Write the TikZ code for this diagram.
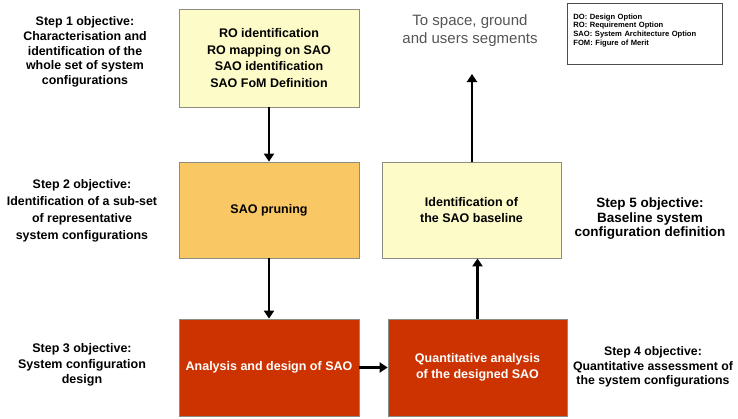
\documentclass[tikz,border=0pt]{standalone}
\usepackage{fontspec}
\setmainfont{Liberation Sans}
\usetikzlibrary{arrows.meta}
\definecolor{lightyel}{RGB}{253,251,200}
\definecolor{orangeyel}{RGB}{249,199,100}
\definecolor{redbox}{RGB}{204,51,0}
\definecolor{boxline}{RGB}{140,140,130}
\definecolor{graytxt}{RGB}{85,85,85}
\tikzset{
  box/.style={draw=boxline, line width=0.8pt, minimum width=180pt, minimum height=97pt,
    inner sep=0pt, align=center, font=\bfseries\fontsize{12.5}{16.5}\selectfont},
  sidetxt/.style={align=center, inner sep=0pt, font=\bfseries\fontsize{12.5}{15.5}\selectfont},
  flow/.style={line width=2.8pt, -{Triangle[length=8pt,width=10pt]}},
}
\begin{document}
\begin{tikzpicture}[x=1pt,y=-1pt]
\useasboundingbox (0,0) rectangle (738,418);
\fill[white] (0,0) rectangle (738,418);
% boxes
\node[box, fill=lightyel, minimum height=98pt] (b1) at (269,58)
  {RO identification\\RO mapping on SAO\\SAO identification\\SAO FoM Definition};
\node[box, fill=orangeyel, minimum height=96pt] (b2) at (269,210) {SAO pruning};
\node[box, fill=redbox, text=white] (b3) at (269,367.5) {Analysis and design of SAO};
\node[box, fill=redbox, text=white, minimum width=179pt] (b4) at (477.5,367.5)
  {Quantitative analysis\\of the designed SAO};
\node[box, fill=lightyel, minimum width=179pt, minimum height=96pt] (b5) at (471.5,210)
  {Identification of\\the SAO baseline};
% side texts
\node[sidetxt, font=\bfseries\fontsize{12.4}{14.8}\selectfont] (s1) at (85,52)
  {Step 1 objective:\\Characterisation and\\identification of the\\whole set of system\\configurations};
\node[sidetxt, font=\bfseries\fontsize{12.4}{17}\selectfont] (s2) at (82,211)
  {Step 2 objective:\\Identification of a sub-set\\of representative\\system configurations};
\node[sidetxt] (s3) at (82,365)
  {Step 3 objective:\\System configuration\\design};
\node[sidetxt, font=\bfseries\fontsize{12.3}{14.5}\selectfont] (s4) at (653,367)
  {Step 4 objective:\\Quantitative assessment of\\the system configurations};
\node[sidetxt, font=\bfseries\fontsize{13.5}{14.5}\selectfont] (s5) at (650,219)
  {Step 5 objective:\\Baseline system\\configuration definition};
% top text
\node[align=center, inner sep=0pt, text=graytxt, font=\fontsize{15}{18}\selectfont] (dest) at (470,31)
  {To space, ground\\and users segments};
% legend
\node[draw=black!70, line width=0.8pt, anchor=north west, minimum width=155pt, minimum height=61pt,
  align=left, inner xsep=6pt, inner ysep=5pt, text width=143pt,
  font=\bfseries\fontsize{7.6}{8.8}\selectfont] (leg) at (567,3)
  {DO: Design Option\\RO: Requirement Option\\SAO: System Architecture Option\\FOM: Figure of Merit\\[0pt]\mbox{}};
% connectors
\coordinate (topend) at (472,74);
\draw[flow] (b1.south) -- (b2.north);
\draw[flow] (b2.south) -- (b3.north);
\draw[flow] (b3.east) -- (b4.west);
\draw[flow] (b4.north) -- (b4.north |- b5.south);
\draw[flow] (b5.north -| topend) -- (topend);
\end{tikzpicture}
\end{document}
